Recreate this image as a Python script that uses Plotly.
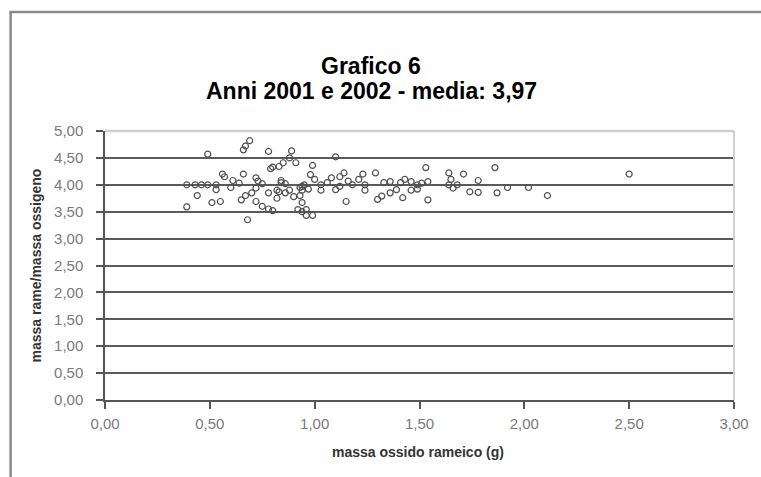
import plotly.graph_objects as go

# Data (massa ossido rameico vs rapporto)
x_vals = [0.39, 0.43, 0.46, 0.49, 0.53, 0.49, 0.39, 0.44, 0.51, 0.55,
          0.53, 0.56, 0.57, 0.61, 0.64, 0.66, 0.67, 0.69, 0.66, 0.68,
          0.65, 0.67, 0.70, 0.72, 0.73, 0.72, 0.75, 0.72, 0.75, 0.78,
          0.80, 0.78, 0.82, 0.84, 0.78, 0.79, 0.89, 0.91, 0.88, 0.85,
          0.83, 0.80, 1.10, 0.99, 0.98, 0.94, 0.94, 0.93, 0.94, 0.96,
          0.96, 0.99, 0.92, 0.84, 0.86, 0.83, 0.86, 0.88, 0.90, 0.82,
          1.00, 1.03, 1.06, 1.08, 1.12, 1.14, 1.15, 1.16, 1.18, 1.21,
          1.24, 1.03, 1.10, 1.12, 1.23, 1.29, 1.24, 1.53, 1.54, 1.42,
          1.30, 1.32, 1.36, 1.39, 1.33, 1.36, 1.41, 1.43, 1.46, 1.49,
          1.51, 1.54, 1.46, 1.49, 1.64, 1.65, 1.64, 1.66, 1.71, 1.68,
          1.78, 1.74, 1.78, 1.86, 1.87, 1.92, 2.02, 2.11, 2.50, 0.95,
          0.93, 0.97, 0.94, 0.60]
y_vals = [4.00, 4.00, 4.00, 4.00, 4.00, 4.57, 3.59, 3.80, 3.67, 3.69,
          3.91, 4.20, 4.15, 4.08, 4.03, 4.20, 4.72, 4.82, 4.65, 3.35,
          3.72, 3.80, 3.85, 3.94, 4.07, 4.13, 4.02, 3.69, 3.60, 3.55,
          3.52, 3.85, 3.90, 4.08, 4.62, 4.30, 4.63, 4.41, 4.50, 4.41,
          4.34, 4.33, 4.52, 4.36, 4.19, 3.97, 3.90, 3.80, 3.67, 3.54,
          3.43, 3.43, 3.54, 4.04, 4.02, 3.87, 3.85, 3.90, 3.78, 3.75,
          4.10, 4.00, 4.04, 4.13, 4.15, 4.22, 3.69, 4.07, 4.00, 4.10,
          4.00, 3.90, 3.91, 3.97, 4.20, 4.22, 3.90, 4.32, 3.72, 3.76,
          3.73, 3.79, 3.85, 3.91, 4.04, 4.06, 4.04, 4.10, 4.06, 4.00,
          4.03, 4.06, 3.90, 3.92, 4.22, 4.10, 4.00, 3.94, 4.20, 4.00,
          4.08, 3.87, 3.86, 4.32, 3.85, 3.95, 3.95, 3.80, 4.20, 4.00,
          3.95, 3.92, 3.50, 3.95]

x_ticks = [0.0, 0.5, 1.0, 1.5, 2.0, 2.5, 3.0]
x_labels = ["0,00", "0,50", "1,00", "1,50", "2,00", "2,50", "3,00"]
y_ticks = [0.0, 0.5, 1.0, 1.5, 2.0, 2.5, 3.0, 3.5, 4.0, 4.5, 5.0]
y_labels = ["0,00", "0,50", "1,00", "1,50", "2,00", "2,50", "3,00",
            "3,50", "4,00", "4,50", "5,00"]

title_line1 = "Grafico 6"
title_line2 = "Anni 2001 e 2002 - media: 3,97"
x_title = "massa ossido rameico (g)"
y_title = "massa rame/massa ossigeno"

W, H = 761, 477
L, R, T, B = 105, 23, 131, 77
pw, ph = W - L - R, H - T - B

def px2x(px):
    return (px - L) / pw

def py2y(py):
    return (H - B - py) / ph

fig = go.Figure()
fig.add_trace(go.Scatter(
    x=x_vals, y=y_vals, mode="markers",
    marker=dict(symbol="circle-open", size=6, color="#505050",
                line=dict(width=1.2, color="#505050")),
    hoverinfo="x+y", showlegend=False,
))

tick_font = dict(family="Liberation Sans, Arial, sans-serif", size=15, color="#7a7a7a")
sans = "Liberation Sans, Arial, sans-serif"

fig.update_layout(
    width=W, height=H,
    margin=dict(l=L, r=R, t=T, b=B),
    paper_bgcolor="white", plot_bgcolor="white",
    showlegend=False,
    xaxis=dict(
        range=[0, 3], tickvals=x_ticks, ticktext=x_labels,
        showgrid=False, zeroline=False,
        showline=True, linecolor="#555555", linewidth=1.5,
        ticks="outside", ticklen=7, tickwidth=1.5, tickcolor="#555555",
        tickfont=tick_font, ticklabelstandoff=2,
    ),
    yaxis=dict(
        range=[0, 5], tickvals=y_ticks, ticktext=y_labels,
        showgrid=True, gridcolor="#5a5a5a", gridwidth=1.5,
        zeroline=False,
        showline=True, linecolor="#555555", linewidth=1.5,
        ticks="outside", ticklen=7, tickwidth=1.5, tickcolor="#555555",
        tickfont=tick_font, ticklabelstandoff=10,
    ),
    shapes=[
        # outer chart frame
        dict(type="rect", xref="paper", yref="paper",
             x0=px2x(10), x1=px2x(800), y0=py2y(520), y1=py2y(12),
             line=dict(color="#8a8a8a", width=2.5), layer="below"),
        # light plot-area border top and right
        dict(type="line", xref="paper", yref="paper",
             x0=0, x1=1, y0=1, y1=1,
             line=dict(color="#d0d0d0", width=2.5), layer="above"),
        dict(type="line", xref="paper", yref="paper",
             x0=1, x1=1, y0=0, y1=1,
             line=dict(color="#d0d0d0", width=2), layer="above"),
    ],
    annotations=[
        dict(text="<b>" + title_line1 + "</b>", xref="paper", yref="paper",
             x=px2x(373), y=py2y(66), xanchor="center", yanchor="middle",
             showarrow=False, font=dict(family=sans, size=23, color="#000000")),
        dict(text="<b>" + title_line2 + "</b>", xref="paper", yref="paper",
             x=px2x(373), y=py2y(91), xanchor="center", yanchor="middle",
             showarrow=False, font=dict(family=sans, size=23, color="#000000")),
        dict(text="<b>" + x_title + "</b>", xref="paper", yref="paper",
             x=px2x(420), y=py2y(452), xanchor="center", yanchor="middle",
             showarrow=False, font=dict(family=sans, size=14, color="#333333")),
        dict(text="<b>" + y_title + "</b>", xref="paper", yref="paper",
             x=px2x(36), y=py2y(265), xanchor="center", yanchor="middle",
             showarrow=False, textangle=-90,
             font=dict(family=sans, size=14, color="#333333")),
    ],
)

fig.write_html(
    "out.html",
    config={"displayModeBar": False},
    post_script="document.body.style.margin='0';document.body.style.overflow='hidden';",
)
